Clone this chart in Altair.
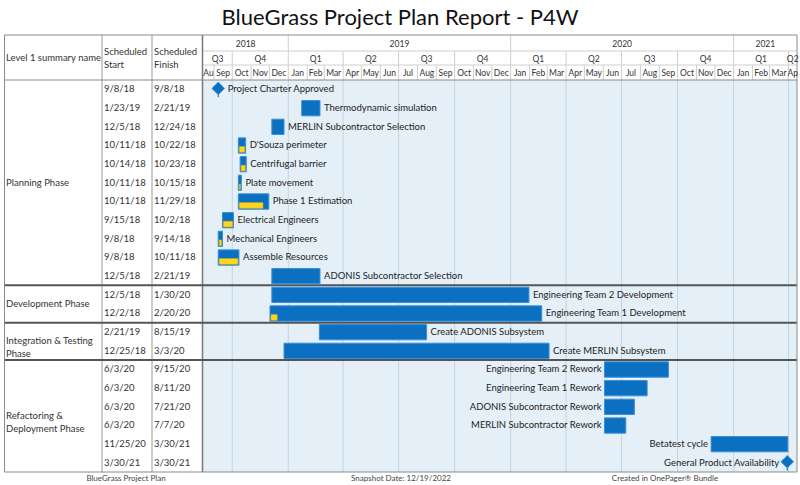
import altair as alt
import pandas as pd

# ---------------- data ----------------
PHASE_NAMES = ["Planning Phase", "Development Phase", "Integration & Testing\nPhase",
               "Refactoring &\nDeployment Phase"]
PHASE_ROWS = [11, 2, 2, 6]

TASK_NAMES = [
    "Project Charter Approved", "Thermodynamic simulation", "MERLIN Subcontractor Selection",
    "D'Souza perimeter", "Centrifugal barrier", "Plate movement", "Phase 1 Estimation",
    "Electrical Engineers", "Mechanical Engineers", "Assemble Resources",
    "ADONIS Subcontractor Selection",
    "Engineering Team 2 Development", "Engineering Team 1 Development",
    "Create ADONIS Subsystem", "Create MERLIN Subsystem",
    "Engineering Team 2 Rework", "Engineering Team 1 Rework", "ADONIS Subcontractor Rework",
    "MERLIN Subcontractor Rework", "Betatest cycle", "General Product Availability",
]
START_DATES = [
    "2018-09-08", "2019-01-23", "2018-12-05", "2018-10-11", "2018-10-14", "2018-10-11",
    "2018-10-11", "2018-09-15", "2018-09-08", "2018-09-08", "2018-12-05",
    "2018-12-05", "2018-12-02",
    "2019-02-21", "2018-12-25",
    "2020-06-03", "2020-06-03", "2020-06-03", "2020-06-03", "2020-11-25", "2021-03-30",
]
FINISH_DATES = [
    "2018-09-08", "2019-02-21", "2018-12-24", "2018-10-22", "2018-10-23", "2018-10-15",
    "2018-11-29", "2018-10-02", "2018-09-14", "2018-10-11", "2019-02-21",
    "2020-01-30", "2020-02-20",
    "2019-08-15", "2020-03-03",
    "2020-09-15", "2020-08-11", "2020-07-21", "2020-07-07", "2021-03-30", "2021-03-30",
]
IS_MILESTONE = [True] + [False] * 19 + [True]
PERCENT_COMPLETE = [0, 0, 0, 100, 100, 100, 84, 100, 100, 100, 0, 0, 3, 0, 0, 0, 0, 0, 0, 0, 0]
LABEL_SIDE = ["right"] * 15 + ["left"] * 6

YEARS = [2018, 2019, 2020, 2021]
FOOTER_TEXTS = ["BlueGrass Project Plan", "Snapshot Date: 12/19/2022", "Created in OnePager\u00ae Bundle"]
TITLE = "BlueGrass Project Plan Report - P4W"

DOMAIN_START = pd.Timestamp("2018-08-14")
DOMAIN_END = pd.Timestamp("2021-04-15")

# ---------------- layout ----------------
FONT = "Lato"
X0, X1 = 203, 797
Y_TOP, Y_HB, Y_BOT = 35, 80, 472
BLUE = "#0b70c1"

xscale = alt.Scale(domain=[alt.DateTime(year=2018, month=8, date=14),
                           alt.DateTime(year=2021, month=4, date=15)], range=[X0, X1])
yscale = alt.Scale(domain=[0, 21], range=[Y_HB, Y_BOT], zero=False, nice=False)


def X(f):
    return alt.X(f"{f}:T", scale=xscale, axis=None)


def Y(f):
    return alt.Y(f"{f}:Q", scale=yscale, axis=None)


def fmt(d):
    return f"{d.month}/{d.day}/{d.year % 100}"


df = pd.DataFrame({
    "name": TASK_NAMES,
    "start": pd.to_datetime(START_DATES),
    "finish": pd.to_datetime(FINISH_DATES),
    "ms": IS_MILESTONE,
    "pct": PERCENT_COMPLETE,
    "side": LABEL_SIDE,
})
df["row"] = range(len(df))
df["end"] = df["finish"] + pd.Timedelta(days=1)
df.loc[df["ms"], "end"] = df.loc[df["ms"], "start"]
df["pend"] = df["start"] + (df["end"] - df["start"]) * (df["pct"] / 100.0)
df["y0"] = df["row"] + 0.1
df["y1"] = df["row"] + 0.92
df["yp0"] = df["row"] + 0.57
df["yp1"] = df["row"] + 0.87
df["ym"] = df["row"] + 0.5
df["ydia"] = df["row"] + 0.45
df["st0"] = df["row"] + 0.78
df["st1"] = df["row"] + 0.92
df["start_txt"] = df["start"].map(fmt)
df["finish_txt"] = df["finish"].map(fmt)
df["kind"] = df["side"] + "_" + df["ms"].map({True: "m", False: "t"})

# phases
bounds = [0]
for n in PHASE_ROWS:
    bounds.append(bounds[-1] + n)
phase_df = pd.DataFrame({
    "name": PHASE_NAMES,
    "mid": [(bounds[i] + bounds[i + 1]) / 2 for i in range(len(PHASE_ROWS))],
})
sep_df = pd.DataFrame({"b": bounds[1:-1]})

# header intervals


def intervals(starts, nxt, labels):
    rows = []
    for s, e, lab in zip(starts, nxt, labels):
        vs, ve = max(s, DOMAIN_START), min(e, DOMAIN_END)
        rows.append({"s": s, "mid": vs + (ve - vs) / 2, "label": lab,
                     "clip": (ve - vs).days < 25})
    return pd.DataFrame(rows)


months = pd.date_range("2018-08-01", "2021-04-01", freq="MS")
month_df = intervals(months, [m + pd.offsets.MonthBegin(1) for m in months],
                     [m.strftime("%b") for m in months])
quarters = pd.date_range("2018-07-01", "2021-04-01", freq="QS")
quarter_df = intervals(quarters, [q + pd.offsets.QuarterBegin(1, startingMonth=1) for q in quarters],
                       [f"Q{q.quarter}" for q in quarters])
year_starts = [pd.Timestamp(f"{y}-01-01") for y in YEARS]
year_df = intervals(year_starts, [pd.Timestamp(f"{y + 1}-01-01") for y in YEARS],
                    [str(y) for y in YEARS])

grid_df = pd.DataFrame({"d": pd.date_range("2018-10-01", "2021-04-01", freq="QS")})
mline_df = pd.DataFrame({"d": [m for m in months if DOMAIN_START < m < DOMAIN_END]})
qline_df = pd.DataFrame({"d": [q for q in quarters if DOMAIN_START < q < DOMAIN_END]})
yline_df = pd.DataFrame({"d": [y for y in year_starts if DOMAIN_START < y < DOMAIN_END]})

one = pd.DataFrame({"k": [0]})

layers = []

# body background
layers.append(alt.Chart(one).mark_rect(fill="#e4eff8").encode(
    x=alt.value(X0), x2=alt.value(X1), y=alt.value(Y_HB), y2=alt.value(Y_BOT)))
# quarter gridlines
layers.append(alt.Chart(grid_df).mark_rule(color="#c4d4e1", strokeWidth=1).encode(
    x=X("d"), y=alt.value(Y_HB), y2=alt.value(Y_BOT)))
# header lines
layers.append(alt.Chart(mline_df).mark_rule(color="#cfcfcf").encode(
    x=X("d"), y=alt.value(65), y2=alt.value(Y_HB)))
layers.append(alt.Chart(qline_df).mark_rule(color="#cfcfcf").encode(
    x=X("d"), y=alt.value(51), y2=alt.value(65)))
layers.append(alt.Chart(yline_df).mark_rule(color="#cfcfcf").encode(
    x=X("d"), y=alt.value(Y_TOP), y2=alt.value(51)))
for yy in (51, 65):
    layers.append(alt.Chart(one).mark_rule(color="#cfcfcf").encode(
        x=alt.value(X0), x2=alt.value(X1), y=alt.value(yy)))

# table frame
for xx, col, w in ((102, "#9a9a9a", 1), (152, "#9a9a9a", 1), (202.5, "#7a7a7a", 1.5)):
    layers.append(alt.Chart(one).mark_rule(color=col, strokeWidth=w).encode(
        x=alt.value(xx), y=alt.value(Y_TOP), y2=alt.value(Y_BOT)))
layers.append(alt.Chart(one).mark_rule(color="#8a8a8a", strokeWidth=1).encode(
    x=alt.value(4), x2=alt.value(X1), y=alt.value(Y_HB)))
layers.append(alt.Chart(sep_df).mark_rule(color="#555555", strokeWidth=2).encode(
    x=alt.value(4), x2=alt.value(X1), y=Y("b")))
layers.append(alt.Chart(one).mark_rect(fillOpacity=0, stroke="#8a8a8a", strokeWidth=1).encode(
    x=alt.value(4.5), x2=alt.value(X1), y=alt.value(Y_TOP), y2=alt.value(Y_BOT)))

# bars
tasks = alt.Chart(df).transform_filter("!datum.ms")
layers.append(tasks.mark_rect(fill=BLUE, stroke="#3b8fd3", strokeWidth=1).encode(
    x=X("start"), x2="end", y=Y("y0"), y2="y1"))
layers.append(alt.Chart(df).transform_filter("datum.pct > 0").mark_rect(
    fill="#ffd61f", stroke="#e8b900", strokeWidth=0.6, xOffset=1, x2Offset=-1).encode(
    x=X("start"), x2="pend", y=Y("yp0"), y2="yp1"))

# milestones
mss = alt.Chart(df).transform_filter("datum.ms")
layers.append(mss.mark_rule(color="#0a5a9a", strokeWidth=1).encode(
    x=X("start"), y=Y("st0"), y2="st1"))
layers.append(mss.mark_point(shape="diamond", filled=True, size=160, color=BLUE, opacity=1,
                             stroke="#3b8fd3", strokeWidth=0.8).encode(
    x=X("start"), y=Y("ydia")))

# bar labels
lab_common = dict(font=FONT, fontSize=9.5, color="#222222", baseline="middle")
for kind, field, dx, align in (("right_t", "end", 4, "left"), ("right_m", "start", 9.5, "left"),
                               ("left_t", "start", -3, "right"), ("left_m", "start", -8, "right")):
    layers.append(alt.Chart(df).transform_filter(f"datum.kind == '{kind}'").mark_text(
        dx=dx, align=align, **lab_common).encode(x=X(field), y=Y("ym"), text="name:N"))

# table text
tab_common = dict(font=FONT, fontSize=9.5, color="#333333", baseline="middle", align="left")
layers.append(alt.Chart(df).mark_text(**tab_common).encode(
    x=alt.value(104), y=Y("ym"), text="start_txt:N"))
layers.append(alt.Chart(df).mark_text(**tab_common).encode(
    x=alt.value(154), y=Y("ym"), text="finish_txt:N"))
layers.append(alt.Chart(phase_df).mark_text(lineBreak="\n", lineHeight=13, **tab_common).encode(
    x=alt.value(6), y=Y("mid"), text="name:N"))

# header texts
hdr = dict(font=FONT, fontSize=9.5, color="#333333", baseline="middle")
layers.append(alt.Chart(one).mark_text(align="left", **hdr).encode(
    x=alt.value(6), y=alt.value(57.5), text=alt.value("Level 1 summary name")))
layers.append(alt.Chart(one).mark_text(align="left", **hdr).encode(
    x=alt.value(104), y=alt.value(51.5), text=alt.value("Scheduled")))
layers.append(alt.Chart(one).mark_text(align="left", **hdr).encode(
    x=alt.value(104), y=alt.value(64.5), text=alt.value("Start")))
layers.append(alt.Chart(one).mark_text(align="left", **hdr).encode(
    x=alt.value(154), y=alt.value(51.5), text=alt.value("Scheduled")))
layers.append(alt.Chart(one).mark_text(align="left", **hdr).encode(
    x=alt.value(154), y=alt.value(64.5), text=alt.value("Finish")))

tick = dict(font=FONT, fontSize=8.5, color="#333333", baseline="middle", align="center")
for d, yy in ((year_df, 44), (quarter_df, 58.5), (month_df, 72.5)):
    layers.append(alt.Chart(d).transform_filter("!datum.clip").mark_text(**tick).encode(
        x=X("mid"), y=alt.value(yy), text="label:N"))
    layers.append(alt.Chart(d).transform_filter("datum.clip").mark_text(
        limit=12, ellipsis="\u200b", **tick).encode(x=X("mid"), y=alt.value(yy), text="label:N"))

# title & footer
layers.append(alt.Chart(one).mark_text(font=FONT, fontSize=22, color="#111111", align="center",
                                       baseline="middle").encode(
    x=alt.value(400), y=alt.value(18), text=alt.value(TITLE)))
foot_df = pd.DataFrame({"t": FOOTER_TEXTS, "px": [126, 401, 665]})
layers.append(alt.Chart(foot_df).mark_text(font=FONT, fontSize=8, color="#444444", align="center",
                                           baseline="middle").encode(
    x=alt.X("px:Q", scale=None, axis=None), y=alt.value(478.5), text="t:N"))

chart = alt.layer(*layers).properties(
    width=800, height=485, padding=0, autosize=alt.AutoSizeParams(type="none"),
    background="white",
).configure_view(stroke=None)

chart.save("out.html", embed_options={"renderer": "svg", "actions": False})
